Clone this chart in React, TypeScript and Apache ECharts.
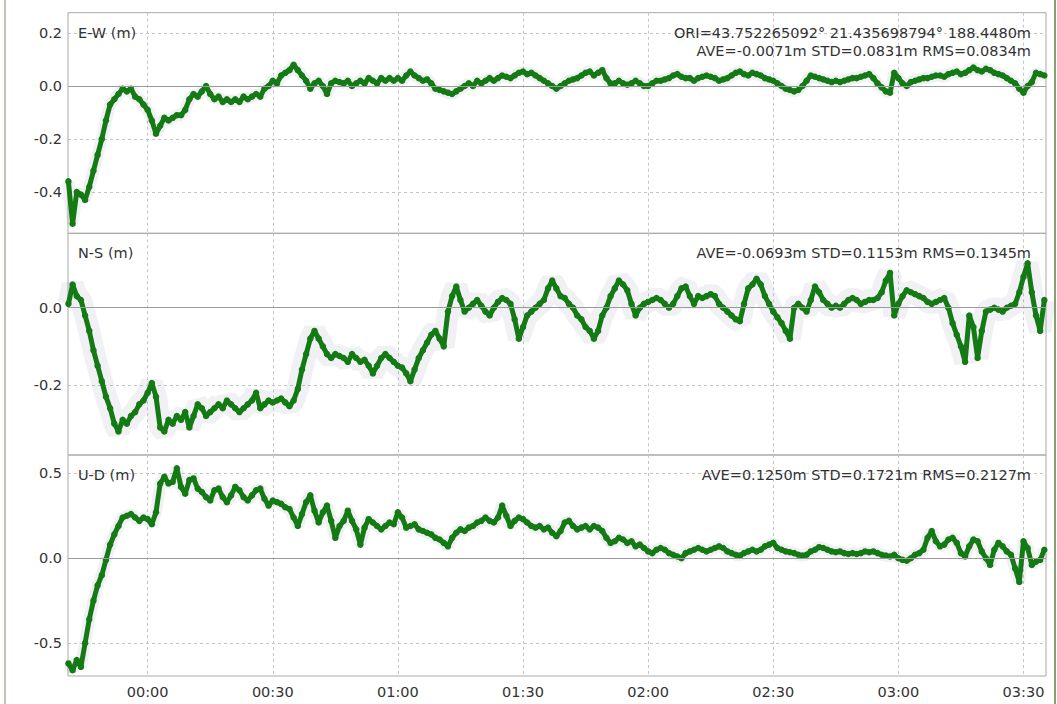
import React, { useEffect, useRef } from "react";
import * as echarts from "echarts";

// time grid: minutes relative to 00:00, one sample per minute
const T_START = -19;
const T_STEP = 1;
const X_TICKS = [0, 30, 60, 90, 120, 150, 180, 210];

const EW = [
  -0.36, -0.52, -0.40, -0.41, -0.43, -0.38, -0.32, -0.26, -0.20, -0.13,
  -0.07, -0.05, -0.03, -0.01, -0.02, -0.01, -0.04, -0.05, -0.07, -0.09,
  -0.13, -0.18, -0.15, -0.12, -0.13, -0.12, -0.11, -0.11, -0.09, -0.05,
  -0.03, -0.04, -0.02, 0.00, -0.03, -0.05, -0.04, -0.06, -0.05, -0.06,
  -0.05, -0.06, -0.04, -0.05, -0.04, -0.03, -0.04, -0.01, 0.00, 0.02,
  0.01, 0.04, 0.05, 0.06, 0.08, 0.06, 0.04, 0.02, -0.01, 0.01,
  0.02, 0.00, -0.03, 0.01, 0.02, 0.015, 0.01, 0.02, 0.00, 0.01,
  0.02, 0.01, 0.03, 0.02, 0.01, 0.03, 0.02, 0.03, 0.02, 0.03,
  0.02, 0.04, 0.055, 0.04, 0.03, 0.02, 0.025, 0.01, -0.01, -0.015,
  -0.02, -0.025, -0.03, -0.02, -0.01, 0.00, 0.01, 0.00, 0.02, 0.01,
  0.02, 0.03, 0.02, 0.03, 0.04, 0.035, 0.03, 0.04, 0.05, 0.055,
  0.045, 0.05, 0.04, 0.03, 0.02, 0.01, 0.00, -0.01, 0.00, 0.01,
  0.02, 0.025, 0.03, 0.04, 0.05, 0.055, 0.04, 0.05, 0.06, 0.03,
  0.01, 0.01, 0.02, 0.01, 0.005, 0.01, 0.02, 0.01, 0.00, 0.00,
  0.01, 0.02, 0.02, 0.025, 0.03, 0.04, 0.045, 0.035, 0.03, 0.03,
  0.02, 0.03, 0.035, 0.04, 0.035, 0.03, 0.02, 0.025, 0.03, 0.04,
  0.05, 0.055, 0.045, 0.04, 0.05, 0.045, 0.04, 0.03, 0.025, 0.02,
  0.01, 0.00, -0.01, -0.015, -0.02, -0.015, 0.00, 0.02, 0.04, 0.035,
  0.03, 0.025, 0.02, 0.015, 0.02, 0.015, 0.02, 0.025, 0.03, 0.03,
  0.035, 0.04, 0.045, 0.03, 0.01, -0.005, -0.02, -0.025, 0.05, 0.03,
  0.01, 0.00, 0.015, 0.02, 0.025, 0.03, 0.03, 0.035, 0.04, 0.04,
  0.035, 0.045, 0.05, 0.055, 0.045, 0.05, 0.06, 0.07, 0.06, 0.055,
  0.065, 0.06, 0.05, 0.045, 0.04, 0.03, 0.02, 0.01, -0.01, -0.025,
  0.00, 0.015, 0.05, 0.045, 0.04,
];

const NS = [
  0.01, 0.06, 0.03, 0.02, -0.02, -0.06, -0.11, -0.15, -0.19, -0.23,
  -0.26, -0.30, -0.32, -0.29, -0.30, -0.28, -0.27, -0.25, -0.24, -0.22,
  -0.195, -0.23, -0.31, -0.32, -0.29, -0.30, -0.28, -0.29, -0.27, -0.31,
  -0.28, -0.25, -0.26, -0.28, -0.27, -0.26, -0.25, -0.26, -0.24, -0.25,
  -0.26, -0.27, -0.26, -0.25, -0.24, -0.22, -0.26, -0.25, -0.24, -0.245,
  -0.24, -0.235, -0.245, -0.255, -0.24, -0.21, -0.16, -0.12, -0.08, -0.06,
  -0.08, -0.10, -0.12, -0.13, -0.12, -0.125, -0.13, -0.14, -0.12, -0.13,
  -0.14, -0.135, -0.15, -0.17, -0.15, -0.13, -0.12, -0.13, -0.14, -0.15,
  -0.155, -0.17, -0.19, -0.16, -0.13, -0.11, -0.09, -0.07, -0.06, -0.08,
  -0.10, -0.01, 0.03, 0.055, 0.02, -0.01, 0.00, 0.01, 0.02, 0.005,
  -0.01, -0.02, 0.00, 0.015, 0.025, 0.02, 0.01, -0.03, -0.08, -0.05,
  -0.02, -0.01, 0.00, 0.01, 0.02, 0.05, 0.07, 0.05, 0.03, 0.025,
  0.01, 0.00, -0.02, -0.03, -0.05, -0.06, -0.08, -0.06, -0.02, 0.00,
  0.03, 0.05, 0.07, 0.06, 0.045, 0.01, -0.02, 0.00, 0.01, 0.015,
  0.02, 0.025, 0.02, 0.01, 0.00, 0.01, 0.03, 0.05, 0.055, 0.03,
  0.01, 0.03, 0.025, 0.03, 0.035, 0.03, 0.01, 0.00, -0.01, -0.02,
  -0.03, -0.035, 0.01, 0.05, 0.06, 0.075, 0.06, 0.03, 0.01, -0.01,
  -0.025, -0.04, -0.06, -0.08, 0.00, 0.01, 0.00, -0.01, 0.02, 0.055,
  0.04, 0.02, 0.01, 0.00, 0.005, 0.00, 0.01, 0.02, 0.025, 0.02,
  0.01, 0.015, 0.02, 0.02, 0.025, 0.04, 0.07, 0.09, -0.02, 0.01,
  0.03, 0.045, 0.04, 0.035, 0.03, 0.025, 0.015, 0.01, 0.015, 0.02,
  0.025, 0.00, -0.04, -0.07, -0.10, -0.14, -0.02, -0.05, -0.13, -0.06,
  -0.01, -0.005, 0.00, -0.005, -0.01, 0.00, 0.005, 0.01, 0.04, 0.08,
  0.115, 0.04, -0.02, -0.06, 0.02,
];

const UD = [
  -0.62, -0.66, -0.60, -0.64, -0.50, -0.36, -0.25, -0.16, -0.10, -0.01,
  0.08, 0.14, 0.19, 0.24, 0.25, 0.26, 0.24, 0.22, 0.24, 0.23,
  0.20, 0.27, 0.44, 0.48, 0.44, 0.45, 0.53, 0.42, 0.38, 0.46,
  0.47, 0.41, 0.39, 0.36, 0.34, 0.40, 0.41, 0.36, 0.33, 0.37,
  0.42, 0.40, 0.36, 0.34, 0.37, 0.40, 0.41, 0.35, 0.31, 0.34,
  0.33, 0.32, 0.30, 0.29, 0.24, 0.19, 0.26, 0.33, 0.37, 0.28,
  0.21, 0.27, 0.31, 0.22, 0.12, 0.19, 0.22, 0.28, 0.22, 0.17,
  0.08, 0.18, 0.23, 0.21, 0.19, 0.17, 0.19, 0.21, 0.20, 0.27,
  0.24, 0.18, 0.19, 0.20, 0.17, 0.16, 0.15, 0.14, 0.12, 0.11,
  0.09, 0.07, 0.12, 0.15, 0.17, 0.16, 0.18, 0.19, 0.21, 0.22,
  0.24, 0.22, 0.21, 0.24, 0.31, 0.25, 0.19, 0.22, 0.24, 0.23,
  0.21, 0.19, 0.18, 0.19, 0.17, 0.18, 0.15, 0.13, 0.16, 0.21,
  0.22, 0.19, 0.17, 0.18, 0.19, 0.17, 0.19, 0.18, 0.16, 0.12,
  0.09, 0.10, 0.12, 0.11, 0.09, 0.10, 0.07, 0.08, 0.06, 0.04,
  0.03, 0.05, 0.06, 0.05, 0.03, 0.02, 0.01, 0.00, 0.03, 0.04,
  0.05, 0.06, 0.05, 0.04, 0.05, 0.06, 0.07, 0.06, 0.04, 0.03,
  0.02, 0.015, 0.03, 0.04, 0.05, 0.04, 0.05, 0.07, 0.08, 0.09,
  0.06, 0.05, 0.04, 0.035, 0.03, 0.02, 0.015, 0.02, 0.04, 0.05,
  0.065, 0.06, 0.05, 0.04, 0.035, 0.04, 0.03, 0.025, 0.03, 0.025,
  0.03, 0.04, 0.035, 0.04, 0.03, 0.02, 0.015, 0.01, 0.02, 0.00,
  -0.01, -0.015, 0.00, 0.02, 0.03, 0.05, 0.12, 0.16, 0.10, 0.07,
  0.08, 0.11, 0.12, 0.09, 0.03, 0.01, 0.07, 0.11, 0.10, 0.04,
  0.00, -0.04, 0.05, 0.09, 0.07, 0.04, 0.02, -0.06, -0.14, 0.10,
  0.06, -0.04, -0.02, -0.01, 0.05,
];

const PANEL_LABELS = ["E-W (m)", "N-S (m)", "U-D (m)"];
const ORI_TEXT = "ORI=43.752265092° 21.435698794° 188.4480m";
const STATS = [
  "AVE=-0.0071m STD=0.0831m RMS=0.0834m",
  "AVE=-0.0693m STD=0.1153m RMS=0.1345m",
  "AVE=0.1250m STD=0.1721m RMS=0.2127m",
];
const Y_TICKS = [
  [-0.4, -0.2, 0, 0.2],
  [-0.2, 0],
  [-0.5, 0, 0.5],
];
const Y_RANGES = [
  [-0.556, 0.277],
  [-0.381, 0.1925],
  [-0.694, 0.608],
];
const SERIES = [EW, NS, UD];
const HALO_WIDTHS = [12, 22, 12];

const FONT = '"DejaVu Sans", Verdana, sans-serif';
const GREEN = "#147a14";
const GRID_LEFT = 68;
const GRID_WIDTH = 978;
const GRID_TOPS = [12.7, 233.3, 455];
const GRID_HEIGHTS = [220.6, 221.7, 221];
const X_MIN = -19.1;
const X_MAX = 215.4;

const pad = (n: number) => (n < 10 ? "0" + n : String(n));
const fmtTime = (v: number) => {
  const h = Math.floor(v / 60);
  const m = Math.round(v - h * 60);
  return pad(h) + ":" + pad(m);
};

export default function App() {
  const ref = useRef<HTMLDivElement>(null);

  useEffect(() => {
    if (!ref.current) return;
    const chart = echarts.init(ref.current, null, { renderer: "svg" });

    const grid = GRID_TOPS.map((top, i) => ({
      left: GRID_LEFT,
      width: GRID_WIDTH,
      top,
      height: GRID_HEIGHTS[i],
      show: true,
      borderColor: "#a9a9a9",
      borderWidth: 1,
      backgroundColor: "transparent",
    }));

    const xAxis = GRID_TOPS.map((_, i) => ({
      type: "value",
      gridIndex: i,
      min: X_MIN,
      max: X_MAX,
      axisLine: { show: false },
      axisTick: { show: false, customValues: X_TICKS },
      axisLabel: {
        show: i === 2,
        customValues: X_TICKS,
        formatter: fmtTime,
        color: "#333",
        fontSize: 14.5,
        fontFamily: FONT,
        margin: 8,
      },
      splitLine: {
        show: true,
        lineStyle: { color: "#c4c4c4", type: [3, 3], width: 1 },
      },
    }));

    const yAxis = GRID_TOPS.map((_, i) => ({
      type: "value",
      gridIndex: i,
      min: Y_RANGES[i][0],
      max: Y_RANGES[i][1],
      axisLine: { show: false },
      axisTick: { show: false, customValues: Y_TICKS[i] },
      axisLabel: {
        customValues: Y_TICKS[i],
        formatter: (v: number) => v.toFixed(1),
        color: "#333",
        fontSize: 14.5,
        fontFamily: FONT,
        margin: 6,
      },
      splitLine: {
        show: true,
        lineStyle: { color: "#c4c4c4", type: [3, 3], width: 1 },
      },
    }));

    const series: any[] = [];
    SERIES.forEach((vals, i) => {
      const data = vals.map((v, k) => [T_START + k * T_STEP, v]);
      series.push({
        type: "line",
        xAxisIndex: i,
        yAxisIndex: i,
        data,
        showSymbol: false,
        silent: true,
        z: 2,
        lineStyle: { color: "rgba(150,140,170,0.13)", width: HALO_WIDTHS[i] },
        markLine: {
          silent: true,
          symbol: "none",
          label: { show: false },
          lineStyle: { color: "#9a9a9a", type: "solid", width: 1 },
          data: [{ yAxis: 0 }],
        },
      });
      series.push({
        type: "line",
        xAxisIndex: i,
        yAxisIndex: i,
        data,
        showSymbol: true,
        symbol: "circle",
        symbolSize: 6.5,
        silent: true,
        z: 3,
        itemStyle: { color: GREEN },
        lineStyle: { color: GREEN, width: 5 },
      });
    });

    const textStyle = (
      text: string,
      x: number,
      y: number,
      align: string
    ) => ({
      type: "text",
      x,
      y,
      silent: true,
      z: 10,
      style: {
        text,
        fill: "#333",
        fontSize: 14.5,
        fontFamily: FONT,
        textAlign: align,
        align,
        textVerticalAlign: "middle",
        verticalAlign: "middle",
      },
    });

    const graphic: any[] = [
      {
        type: "line",
        shape: { x1: 5, y1: 0, x2: 5, y2: 704 },
        style: { stroke: "#aab09c", lineWidth: 1.5 },
        silent: true,
      },
      {
        type: "line",
        shape: { x1: 1055, y1: 0, x2: 1055, y2: 704 },
        style: { stroke: "#86a070", lineWidth: 2 },
        silent: true,
      },
    ];
    GRID_TOPS.forEach((top, i) => {
      graphic.push(textStyle(PANEL_LABELS[i], 78, top + 20, "left"));
    });
    graphic.push(textStyle(ORI_TEXT, 1031, GRID_TOPS[0] + 20, "right"));
    graphic.push(textStyle(STATS[0], 1031, GRID_TOPS[0] + 38, "right"));
    graphic.push(textStyle(STATS[1], 1031, GRID_TOPS[1] + 20, "right"));
    graphic.push(textStyle(STATS[2], 1031, GRID_TOPS[2] + 20, "right"));

    chart.setOption({
      animation: false,
      backgroundColor: "#ffffff",
      grid,
      xAxis,
      yAxis,
      series,
      graphic,
    });

    return () => chart.dispose();
  }, []);

  return (
    <div
      ref={ref}
      style={{
        position: "absolute",
        left: 0,
        top: 0,
        width: 1057,
        height: 704,
        background: "#fff",
      }}
    />
  );
}
